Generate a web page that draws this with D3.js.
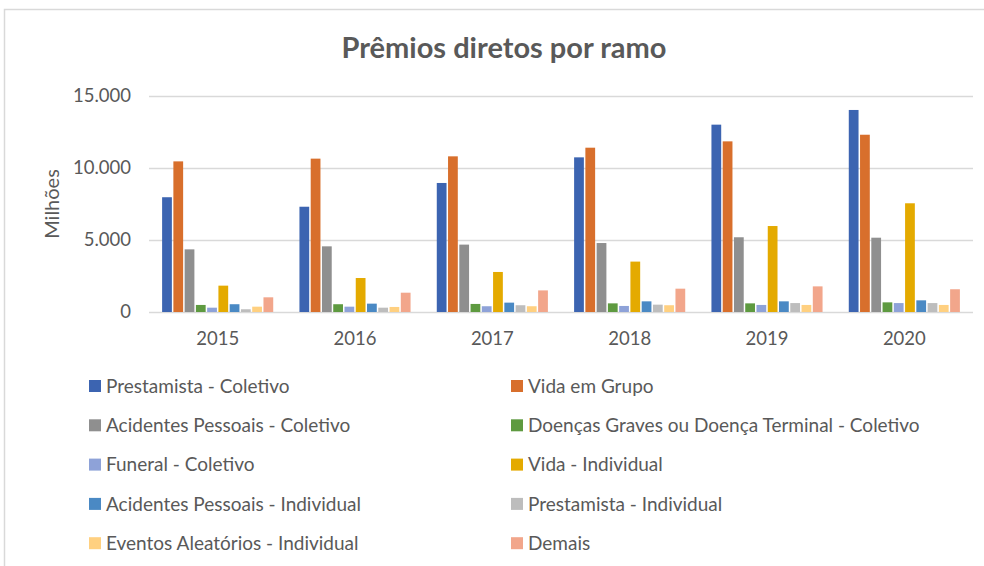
<!DOCTYPE html>
<html>
<head>
<meta charset="utf-8">
<script src="https://cdn.jsdelivr.net/npm/d3@7"></script>
<style>
  body { margin: 0; background: #fff; }
  text { font-family: Lato, "Open Sans", sans-serif; fill: #595959; }
</style>
</head>
<body>
<div id="chart"></div>
<script>
var years = ["2015", "2016", "2017", "2018", "2019", "2020"];

var seriesNames = [
    "Prestamista - Coletivo",
    "Vida em Grupo",
    "Acidentes Pessoais - Coletivo",
    "Doenças Graves ou Doença Terminal - Coletivo",
    "Funeral - Coletivo",
    "Vida - Individual",
    "Acidentes Pessoais - Individual",
    "Prestamista - Individual",
    "Eventos Aleatórios - Individual",
    "Demais"
];

var seriesColors = ["#3C64B1", "#D86F2C", "#8F8F8F", "#5E9A40", "#8EA2D8",
                    "#E4AA00", "#4A89C4", "#BDBDBD", "#FFD080", "#F2A68B"];

// valores em milhões, por série, na ordem dos anos
var prestamistaColetivo = [7970, 7310, 8960, 10740, 13010, 14030];
var vidaGrupo          = [10460, 10650, 10810, 11410, 11850, 12310];
var apColetivo         = [4350, 4560, 4680, 4790, 5190, 5160];
var doencasGraves      = [490, 540, 560, 600, 600, 670];
var funeralColetivo    = [300, 370, 400, 420, 490, 620];
var vidaIndividual     = [1830, 2360, 2780, 3500, 5970, 7550];
var apIndividual       = [540, 580, 650, 740, 740, 810];
var prestamistaIndiv   = [190, 300, 470, 510, 620, 620];
var eventosAleatorios  = [370, 350, 400, 470, 490, 490];
var demais             = [1020, 1340, 1500, 1620, 1780, 1580];

var yTicks = [0, 5000, 10000, 15000];

var seriesValues = [prestamistaColetivo, vidaGrupo, apColetivo, doencasGraves, funeralColetivo,
                    vidaIndividual, apIndividual, prestamistaIndiv, eventosAleatorios, demais];

var width = 984, height = 566;

var svg = d3.select("#chart").append("svg")
    .attr("width", width)
    .attr("height", height);

// moldura
svg.append("path")
    .attr("d", "M4.5,566V9.5H984")
    .attr("fill", "none")
    .attr("stroke", "#D9D9D9")
    .attr("stroke-width", 1.5);

var ptBR = d3.formatLocale({decimal: ",", thousands: ".", grouping: [3], currency: ["R$", ""]});
var fmt = ptBR.format(",");

var x = d3.scaleBand()
    .domain(years)
    .range([149, 973])
    .paddingInner(0.18)
    .paddingOuter(0.09);

var xInner = d3.scaleBand()
    .domain(d3.range(seriesNames.length))
    .range([0, x.bandwidth()]);

var y = d3.scaleLinear()
    .domain([0, 15000])
    .range([312, 96]);

// grade
svg.append("g")
    .selectAll("line")
    .data(yTicks)
    .enter().append("line")
    .attr("x1", 149)
    .attr("x2", 973)
    .attr("y1", function(d) { return Math.round(y(d)) + 0.5; })
    .attr("y2", function(d) { return Math.round(y(d)) + 0.5; })
    .attr("stroke", "#D9D9D9")
    .attr("stroke-width", 1.5);

// eixo y
var yAxis = svg.append("g")
    .attr("transform", "translate(131,0)")
    .call(d3.axisLeft(y).tickValues(yTicks).tickFormat(fmt).tickSize(0).tickPadding(0));
yAxis.select(".domain").remove();
yAxis.selectAll("text")
    .style("font-size", "18.5px")
    .attr("fill", "#595959");

svg.append("text")
    .attr("transform", "translate(59,204) rotate(-90)")
    .attr("text-anchor", "middle")
    .style("font-size", "20px")
    .text("Milhões");

// barras
var groups = svg.append("g")
    .selectAll("g")
    .data(years)
    .enter().append("g")
    .attr("transform", function(d) { return "translate(" + x(d) + ",0)"; });

groups.selectAll("rect")
    .data(function(d, i) {
        return seriesValues.map(function(s, k) { return {k: k, value: s[i]}; });
    })
    .enter().append("rect")
    .attr("x", function(d) { return xInner(d.k) + 0.75; })
    .attr("width", xInner.bandwidth() - 1.5)
    .attr("y", function(d) { return y(d.value); })
    .attr("height", function(d) { return y(0) - y(d.value); })
    .attr("fill", function(d) { return seriesColors[d.k]; });

// eixo x
var xAxis = svg.append("g")
    .attr("transform", "translate(0,312)")
    .call(d3.axisBottom(x).tickSize(0).tickPadding(20));
xAxis.select(".domain").remove();
xAxis.selectAll("text")
    .style("font-size", "18.5px")
    .attr("fill", "#595959");

// título
svg.append("text")
    .attr("x", 504)
    .attr("y", 58)
    .attr("text-anchor", "middle")
    .style("font-size", "29px")
    .style("font-weight", "bold")
    .text("Prêmios diretos por ramo");

// legenda
var legend = svg.append("g")
    .selectAll("g")
    .data(seriesNames)
    .enter().append("g")
    .attr("transform", function(d, i) {
        var col = i % 2, row = Math.floor(i / 2);
        return "translate(" + (col === 0 ? 89 : 511) + "," + (386 + row * 39.3) + ")";
    });

legend.append("rect")
    .attr("x", 0)
    .attr("y", -6)
    .attr("width", 12)
    .attr("height", 12)
    .attr("fill", function(d, i) { return seriesColors[i]; });

legend.append("text")
    .attr("x", 17)
    .attr("y", 0)
    .attr("dy", "0.35em")
    .style("font-size", "19px")
    .text(function(d) { return d; });
</script>
</body>
</html>
